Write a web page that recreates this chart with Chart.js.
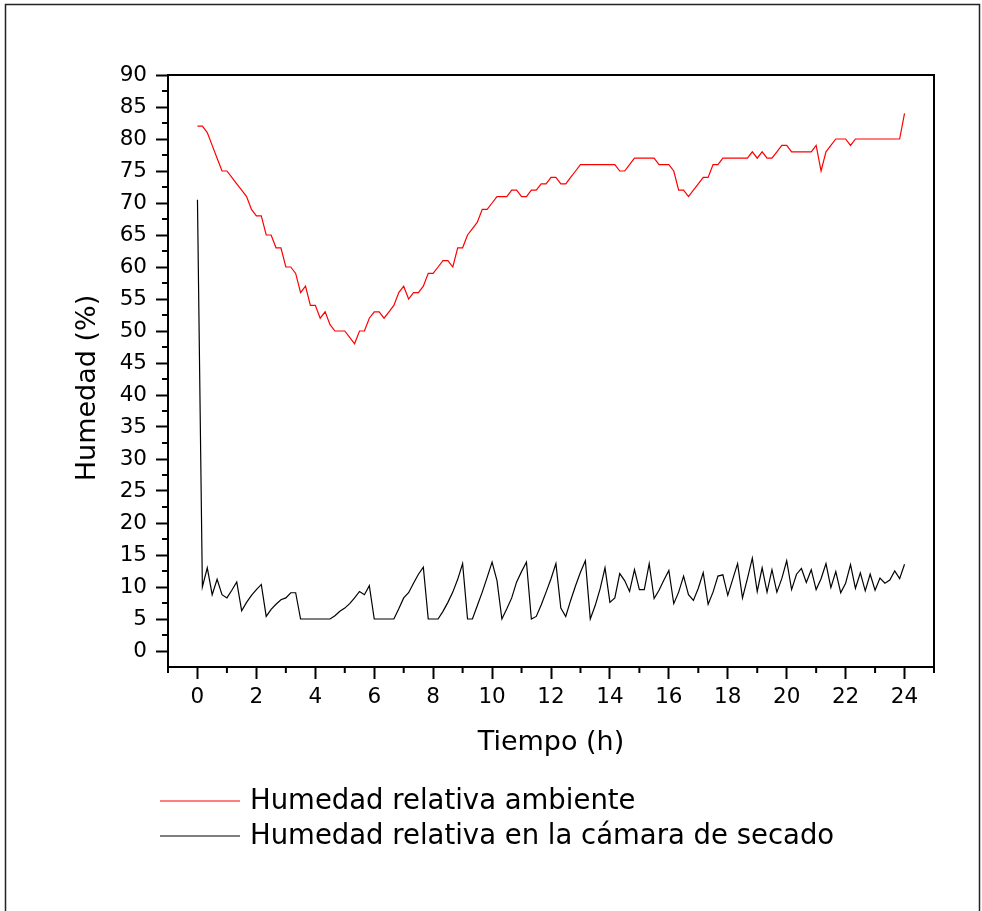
<!DOCTYPE html>
<html lang="es">
<head>
<meta charset="utf-8">
<title>Humedad relativa</title>
<script src="https://cdn.jsdelivr.net/npm/chart.js@4.4.1/dist/chart.umd.min.js"></script>
<style>
    html, body { margin: 0; padding: 0; background: #fff; }
    #humedadChart { display: block; }
</style>
</head>
<body>
<canvas id="humedadChart" width="982" height="911"></canvas>
<script>
// lecturas cada 10 minutos, de 0 a 24 h
const PASO_H = 10 / 60;

// Humedad relativa ambiente (%)
const humedadAmbiente = [
    82, 82, 81, 79, 77, 75, 75, 74, 73, 72, 71, 69, 68, 68, 65, 65, 63, 63, 60, 60,
    59, 56, 57, 54, 54, 52, 53, 51, 50, 50, 50, 49, 48, 50, 50, 52, 53, 53, 52, 53,
    54, 56, 57, 55, 56, 56, 57, 59, 59, 60, 61, 61, 60, 63, 63, 65, 66, 67, 69, 69,
    70, 71, 71, 71, 72, 72, 71, 71, 72, 72, 73, 73, 74, 74, 73, 73, 74, 75, 76, 76,
    76, 76, 76, 76, 76, 76, 75, 75, 76, 77, 77, 77, 77, 77, 76, 76, 76, 75, 72, 72,
    71, 72, 73, 74, 74, 76, 76, 77, 77, 77, 77, 77, 77, 78, 77, 78, 77, 77, 78, 79,
    79, 78, 78, 78, 78, 78, 79, 75, 78, 79, 80, 80, 80, 79, 80, 80, 80, 80, 80, 80,
    80, 80, 80, 80, 84
];

// Humedad relativa en la cámara de secado (%)
const humedadCamara = [
    70.5, 10, 13, 8.8, 11.2, 8.8, 8.3, 9.5, 10.8, 6.3, 7.6, 8.7, 9.6, 10.4, 5.4, 6.5, 7.3, 8, 8.3, 9.1,
    9.1, 5, 5, 5, 5, 5, 5, 5, 5.5, 6.2, 6.7, 7.4, 8.3, 9.3, 8.8, 10.2, 5, 5, 5, 5,
    5, 6.6, 8.3, 9.1, 10.6, 12, 13.1, 5, 5, 5, 6.2, 7.6, 9.2, 11.2, 13.65, 5, 5, 7.1, 9.2, 11.5,
    13.9, 11, 5, 6.6, 8.3, 10.8, 12.4, 13.9, 5, 5.4, 7.2, 9.2, 11.3, 13.65, 6.7, 5.4, 7.9, 10.2, 12.3, 14.1,
    5, 7.1, 9.7, 13, 7.6, 8.3, 12.1, 11, 9.3, 12.7, 9.6, 9.6, 13.65, 8.2, 9.5, 11.1, 12.6, 7.4, 9.2, 11.7,
    8.8, 7.9, 9.8, 12.25, 7.3, 9.2, 11.7, 11.9, 8.7, 11.2, 13.65, 8.3, 11.3, 14.5, 9.3, 13, 9.2, 12.7, 9.2, 11.3,
    14.1, 9.6, 12, 12.9, 10.7, 12.7, 9.6, 11.3, 13.65, 9.9, 12.4, 9.1, 10.6, 13.5, 9.8, 12.2, 9.4, 12, 9.5, 11.4,
    10.6, 11.1, 12.5, 11.3, 13.55
];

const ticksX = [0, 2, 4, 6, 8, 10, 12, 14, 16, 18, 20, 22, 24];
const ticksY = [0, 5, 10, 15, 20, 25, 30, 35, 40, 45, 50, 55, 60, 65, 70, 75, 80, 85, 90];
const menoresX = [-1, 1, 3, 5, 7, 9, 11, 13, 15, 17, 19, 21, 23, 25];
const menoresY = [2.5, 7.5, 12.5, 17.5, 22.5, 27.5, 32.5, 37.5, 42.5, 47.5, 52.5, 57.5, 62.5, 67.5, 72.5, 77.5, 82.5, 87.5];

const FUENTE = '"DejaVu Sans", "Liberation Sans", Arial, sans-serif';

const series = [
    { label: 'Humedad relativa ambiente', valores: humedadAmbiente, color: '#ff0000' },
    { label: 'Humedad relativa en la cámara de secado', valores: humedadCamara, color: '#000000' }
];

// marco, ticks menores, titulos y leyenda
const decoracion = {
    id: 'decoracion',
    beforeDraw(chart) {
        const ctx = chart.ctx;
        ctx.save();
        ctx.fillStyle = '#fff';
        ctx.fillRect(0, 0, chart.width, chart.height);
        ctx.strokeStyle = '#222';
        ctx.lineWidth = 1.5;
        ctx.beginPath();
        ctx.moveTo(5.5, chart.height);
        ctx.lineTo(5.5, 4.5);
        ctx.lineTo(979.5, 4.5);
        ctx.lineTo(979.5, chart.height);
        ctx.stroke();
        ctx.restore();
    },
    afterDraw(chart) {
        const ctx = chart.ctx;
        const area = chart.chartArea;
        const x = chart.scales.x;
        const y = chart.scales.y;
        ctx.save();
        ctx.strokeStyle = '#000';
        ctx.lineWidth = 2;

        // lados superior y derecho del recuadro
        ctx.beginPath();
        ctx.moveTo(area.left, area.top);
        ctx.lineTo(area.right, area.top);
        ctx.lineTo(area.right, area.bottom);
        ctx.stroke();

        // ticks menores
        ctx.beginPath();
        menoresX.forEach(v => {
            const px = x.getPixelForValue(v);
            ctx.moveTo(px, area.bottom);
            ctx.lineTo(px, area.bottom + 6);
        });
        menoresY.forEach(v => {
            const py = y.getPixelForValue(v);
            ctx.moveTo(area.left, py);
            ctx.lineTo(area.left - 6, py);
        });
        ctx.stroke();

        // titulos de los ejes
        ctx.fillStyle = '#000';
        ctx.font = '27px ' + FUENTE;
        ctx.textAlign = 'center';
        ctx.textBaseline = 'middle';
        ctx.fillText('Tiempo (h)', (area.left + area.right) / 2, 743);
        ctx.save();
        ctx.translate(88, 388);
        ctx.rotate(-Math.PI / 2);
        ctx.fillText('Humedad (%)', 0, 0);
        ctx.restore();

        // leyenda
        ctx.font = '27.5px ' + FUENTE;
        ctx.textAlign = 'left';
        series.forEach((s, i) => {
            const ly = 801 + i * 35;
            ctx.strokeStyle = s.color;
            ctx.lineWidth = 1.2;
            ctx.beginPath();
            ctx.moveTo(160, ly);
            ctx.lineTo(240, ly);
            ctx.stroke();
            ctx.fillText(s.label, 250, ly + 1);
        });
        ctx.restore();
    }
};

function crearGrafico() {
    const ctx = document.getElementById('humedadChart').getContext('2d');
    new Chart(ctx, {
        type: 'line',
        data: {
            datasets: series.map(s => ({
                label: s.label,
                data: s.valores.map((v, i) => ({ x: i * PASO_H, y: v })),
                borderColor: s.color,
                borderWidth: 1.2,
                pointRadius: 0,
                tension: 0,
                fill: false
            }))
        },
        options: {
            responsive: false,
            animation: false,
            events: [],
            layout: { padding: { left: 0, top: 75, right: 48, bottom: 0 } },
            plugins: {
                legend: { display: false },
                tooltip: { enabled: false }
            },
            scales: {
                x: {
                    type: 'linear',
                    min: -1,
                    max: 25,
                    afterBuildTicks: scale => { scale.ticks = ticksX.map(v => ({ value: v })); },
                    afterFit: scale => { scale.height = 244; },
                    border: { display: true, color: '#000', width: 2 },
                    grid: { drawOnChartArea: false, drawTicks: true, tickLength: 12, tickWidth: 2, tickColor: '#000' },
                    ticks: { color: '#000', padding: 6, maxRotation: 0, font: { family: FUENTE, size: 21.5 } }
                },
                y: {
                    type: 'linear',
                    min: -2.5,
                    max: 90,
                    afterBuildTicks: scale => { scale.ticks = ticksY.map(v => ({ value: v })); },
                    afterFit: scale => { scale.width = 168; },
                    border: { display: true, color: '#000', width: 2 },
                    grid: { drawOnChartArea: false, drawTicks: true, tickLength: 12, tickWidth: 2, tickColor: '#000' },
                    ticks: { color: '#000', padding: 9, font: { family: FUENTE, size: 21.5 } }
                }
            }
        },
        plugins: [decoracion]
    });
}

document.addEventListener('DOMContentLoaded', crearGrafico);
</script>
</body>
</html>
